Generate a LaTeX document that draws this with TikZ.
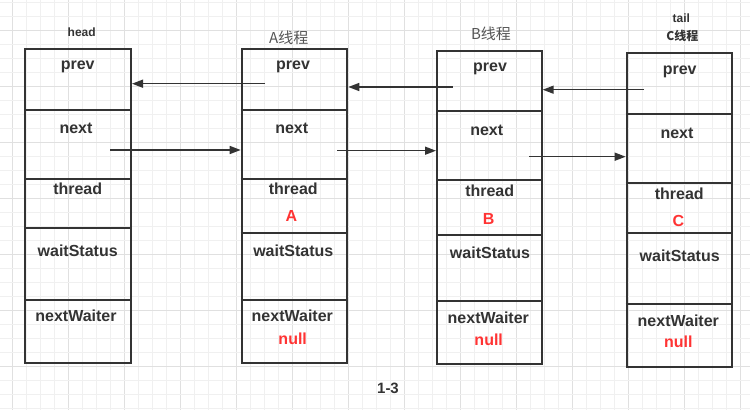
\documentclass[tikz,border=0pt]{standalone}
\usepackage{fontspec}
\setmainfont{Liberation Sans}
\newfontfamily\cjk{Noto Sans CJK SC}
\usetikzlibrary{arrows.meta}
\definecolor{ink}{HTML}{333333}
\definecolor{redtxt}{HTML}{FF3333}
\definecolor{capgray}{HTML}{555555}
\definecolor{gridfine}{HTML}{F0F0F0}
\definecolor{gridbold}{HTML}{E0E0E0}

\begin{document}
\begin{tikzpicture}[x=1pt, y=-1pt,
		box/.style={draw=ink, line width=2pt, inner sep=0pt},
		div/.style={draw=ink, line width=2pt},
		field/.style={text=ink, font=\bfseries\fontsize{16}{19}\selectfont, inner sep=0pt},
		value/.style={text=redtxt, font=\bfseries\fontsize{16}{19}\selectfont, inner sep=0pt},
		title/.style={text=capgray, font=\cjk\fontsize{15}{18}\selectfont, inner sep=0pt},
		tag/.style={text=ink, font=\bfseries\fontsize{12}{14}\selectfont, inner sep=0pt},
		arr/.style={draw=ink, line width=1.5pt, -{Triangle[length=11pt, width=8pt]}}]
		
		\useasboundingbox (0,0) rectangle (750,410);
		
		% background grid
		\foreach \k in {0,...,54} {
			\pgfmathtruncatemacro{\m}{mod(\k,4)}
			\ifnum\m=1 \draw[gridbold, line width=1pt] (-1.3+14*\k,0) -- (-1.3+14*\k,410);
			\else \draw[gridfine, line width=1pt] (-1.3+14*\k,0) -- (-1.3+14*\k,410); \fi
		}
		\foreach \k in {0,...,29} {
			\pgfmathtruncatemacro{\m}{mod(\k,4)}
			\ifnum\m=2 \draw[gridbold, line width=1pt] (0,2.7+14*\k) -- (750,2.7+14*\k);
			\else \draw[gridfine, line width=1pt] (0,2.7+14*\k) -- (750,2.7+14*\k); \fi
		}
		
		% the four nodes of the queue
		\node[box, minimum width=106pt, minimum height=314pt] (head) at (78,206) {};
		\node[box, minimum width=105.6pt, minimum height=314pt] (A) at (294.5,206) {};
		\node[box, minimum width=104.7pt, minimum height=313.6pt] (B) at (489.35,207.5) {};
		\node[box, minimum width=105.3pt, minimum height=314.6pt] (C) at (679.35,210) {};
		
		\foreach \y in {109.7,179,228,300}
			\draw[div] (head.west |- 0,\y) -- (head.east |- 0,\y);
		\foreach \y in {110,179,233,300.3}
			\draw[div] (A.west |- 0,\y) -- (A.east |- 0,\y);
		\foreach \y in {110.7,180,235,301.3}
			\draw[div] (B.west |- 0,\y) -- (B.east |- 0,\y);
		\foreach \y in {114,182.7,233.3,304}
			\draw[div] (C.west |- 0,\y) -- (C.east |- 0,\y);
		
		% titles
		\node[tag] (headtag) at (81.7,32.7) {head};
		\node[title] (Atitle) at (288.7,37.7) {A线程};
		\node[title] (Btitle) at (491,33.7) {B线程};
		\node[tag] (tailtag) at (681.3,18.7) {tail};
		\node[tag, font=\cjk\bfseries\fontsize{12}{14}\selectfont] (Ctitle) at (682.3,36.3) {C线程};
		
		% fields
		\node[field] (hprev) at (77.7,67) {prev};
		\node[field] (hnext) at (76,128) {next};
		\node[field] (hthread) at (77.7,189) {thread};
		\node[field] (hws) at (77.7,251) {waitStatus};
		\node[field] (hnw) at (76,316) {nextWaiter};
		
		\node[field] (aprev) at (293,67) {prev};
		\node[field] (anext) at (291.7,128) {next};
		\node[field] (athread) at (293.3,189) {thread};
		\node[value] (aval) at (291.3,216) {A};
		\node[field] (aws) at (293.3,250.3) {waitStatus};
		\node[field] (anw) at (292.3,316) {nextWaiter};
		\node[value] (anull) at (292.7,338.3) {null};
		
		\node[field] (bprev) at (490,68.7) {prev};
		\node[field] (bnext) at (486.7,130) {next};
		\node[field] (bthread) at (489.7,191) {thread};
		\node[value] (bval) at (488.7,218.7) {B};
		\node[field] (bws) at (490,252.7) {waitStatus};
		\node[field] (bnw) at (488.3,317.7) {nextWaiter};
		\node[value] (bnull) at (488.7,339.3) {null};
		
		\node[field] (cprev) at (679.7,71.7) {prev};
		\node[field] (cnext) at (677,133) {next};
		\node[field] (cthread) at (679.3,194) {thread};
		\node[value] (cval) at (678.3,220.7) {C};
		\node[field] (cws) at (679.7,256) {waitStatus};
		\node[field] (cnw) at (678.3,321) {nextWaiter};
		\node[value] (cnull) at (678.3,342) {null};
		
		% prev links
		\coordinate (ap) at (265,83.7);
		\coordinate (bp) at (452.7,87);
		\coordinate (cp) at (644,89.7);
		\draw[arr] (ap) -- (ap -| head.east);
		\draw[arr] (bp) -- (bp -| A.east);
		\draw[arr] (cp) -- (cp -| B.east);
		
		% next links
		\coordinate (hn) at (110,150);
		\coordinate (an) at (337.3,150.7);
		\coordinate (bn) at (529,156.7);
		\draw[arr] (hn) -- (hn -| A.west);
		\draw[arr] (an) -- (an -| B.west);
		\draw[arr] (bn) -- (bn -| C.west);
		
		\node[field, font=\bfseries\fontsize{15}{18}\selectfont] (fig) at (388,388.3) {1-3};
		
	\end{tikzpicture}
\end{document}
